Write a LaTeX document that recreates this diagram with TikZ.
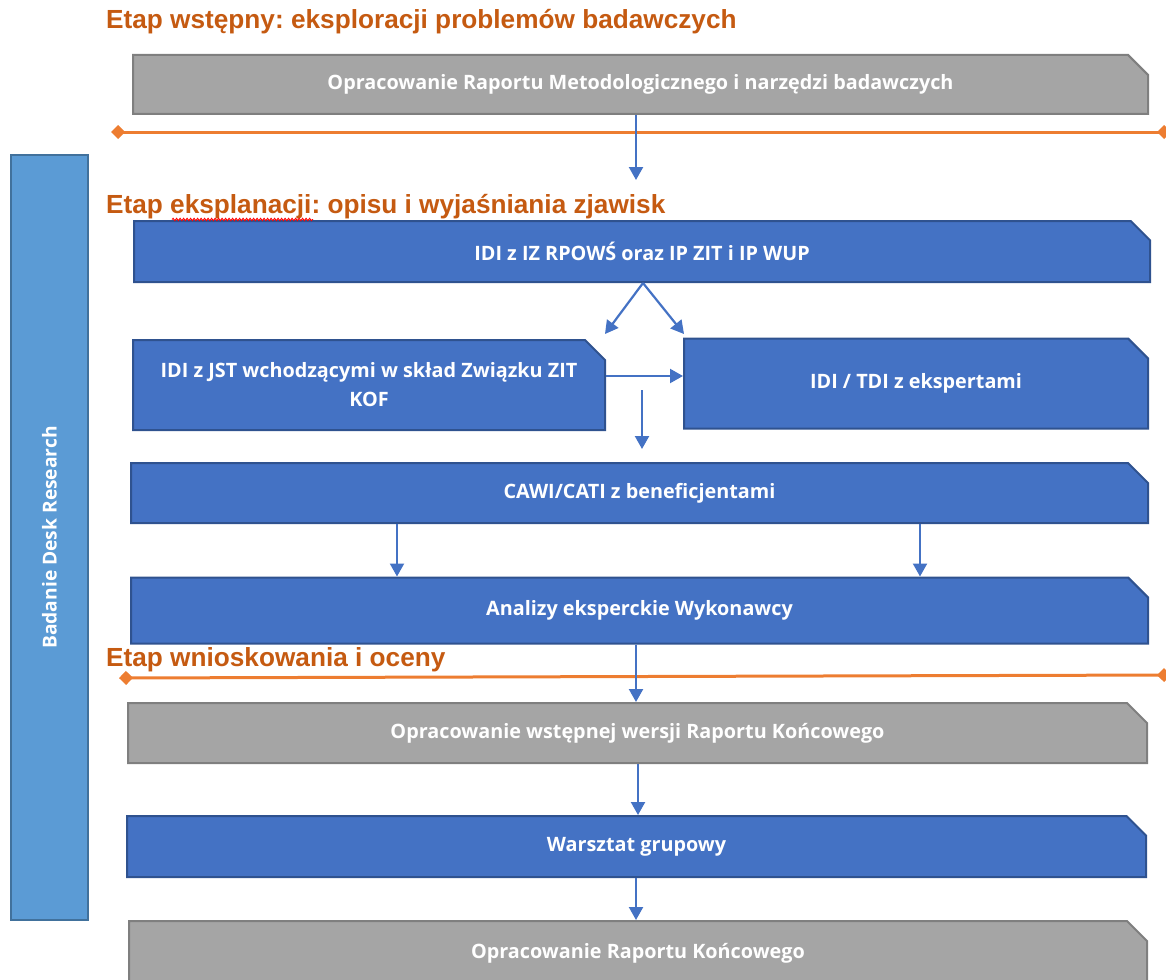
\documentclass[tikz,border=0pt]{standalone}
\usepackage{fontspec}
\setmainfont{Liberation Sans}
\newfontfamily\boxfont{Open Sans}
\usetikzlibrary{shapes.misc,arrows.meta,decorations.pathmorphing}
\definecolor{bfill}{HTML}{4472C4}
\definecolor{bline}{HTML}{2F528F}
\definecolor{gfill}{HTML}{A5A5A5}
\definecolor{gline}{HTML}{7F7F7F}
\definecolor{lfill}{HTML}{5B9BD5}
\definecolor{lline}{HTML}{41719C}
\definecolor{oline}{HTML}{ED7D31}
\definecolor{otext}{HTML}{C55A11}
\frenchspacing
\tikzset{
  snip/.style={chamfered rectangle, chamfered rectangle corners=north east,
    chamfered rectangle xsep=10, chamfered rectangle ysep=10,
    line width=2, inner sep=0, align=center, text=white,
    font=\boxfont\bfseries\fontsize{19.8}{29}\selectfont},
  bluebox/.style={snip, fill=bfill, draw=bline},
  graybox/.style={snip, fill=gfill, draw=gline},
  sidebar/.style={snip, fill=lfill, draw=lline},
  header/.style={anchor=west, inner sep=0, text=otext,
    font=\bfseries\fontsize{26.2}{30}\selectfont},
  arr/.style={draw=bfill, line width=2.2, -{Triangle[length=13,width=14]}},
  phase/.style={draw=oline, line width=3, {Diamond[length=14,width=14]}-{Diamond[length=14,width=14]}}
}
\begin{document}
\begin{tikzpicture}[x=1pt,y=-1pt]
\useasboundingbox (0,0) rectangle (1166,979);
% phase lines
\draw[phase] (111,132) -- (1171,132);
\draw[phase] (119,678) -- (1171,675);
% side bar
\node[sidebar, minimum width=77, minimum height=765] (side) at (49.5,537.5) {};
\node[rotate=90, text=white, font=\boxfont\bfseries\fontsize{19.2}{22}\selectfont] (sidet) at (side.center) {Badanie Desk Research};
% boxes
\node[graybox, minimum width=1015, minimum height=59] (b1) at (640.5,84.5) {Opracowanie Raportu Metodologicznego i narzędzi badawczych};
\node[bluebox, minimum width=1016, minimum height=61] (b2) at (642,251.5) {IDI z IZ RPOWŚ oraz IP ZIT i IP WUP};
\node[bluebox, minimum width=472, minimum height=90] (b3) at (369,385) {IDI z JST wchodzącymi w skład Związku ZIT\\KOF};
\node[bluebox, minimum width=464, minimum height=90] (b4) at (916,383.5) {IDI / TDI z ekspertami};
\node[bluebox, minimum width=1017, minimum height=60] (b5) at (639.5,493) {CAWI/CATI z beneficjentami};
\node[bluebox, minimum width=1017, minimum height=66] (b6) at (639.5,610.5) {Analizy eksperckie Wykonawcy};
\node[graybox, minimum width=1019, minimum height=60] (b7) at (637.5,733) {Opracowanie wstępnej wersji Raportu Końcowego};
\node[bluebox, minimum width=1019, minimum height=61] (b8) at (636.5,846.5) {Warsztat grupowy};
\node[graybox, minimum width=1018, minimum height=64] (b9) at (638,953) {Opracowanie Raportu Końcowego};
% headers
\node[header] (h1) at (106,22) {Etap wstępny: eksploracji problemów badawczych};
\node[header] (h2) at (106,207) {Etap eksplanacji: opisu i wyjaśniania zjawisk};
\node[header] (h3) at (106,660) {Etap wnioskowania i oceny};
\draw[red, line width=0.9, decorate, decoration={snake, amplitude=1.2, segment length=3.5}] (172,219.5) -- (313,219.5);
% connector ends
\coordinate (c1) at (636,180);
\coordinate (c2l) at (605,334);
\coordinate (c2r) at (684,334);
\coordinate (c3a) at (642,390);
\coordinate (c3b) at (642,449);
% connectors
\draw[arr] (b1.south -| 636,0) -- (c1);
\draw[arr] (b2.south -| 643,0) -- (c2l);
\draw[arr] (b2.south -| 643,0) -- (c2r);
\draw[arr] (b3.east |- 0,376) -- (b4.west |- 0,376);
\draw[arr] (c3a) -- (c3b);
\draw[arr] (b5.south -| 397,0) -- (b6.north -| 397,0);
\draw[arr] (b5.south -| 920,0) -- (b6.north -| 920,0);
\draw[arr] (b6.south -| 636,0) -- (b7.north -| 636,0);
\draw[arr] (b7.south -| 638,0) -- (b8.north -| 638,0);
\draw[arr] (b8.south -| 636,0) -- (b9.north -| 636,0);
\end{tikzpicture}
\end{document}
